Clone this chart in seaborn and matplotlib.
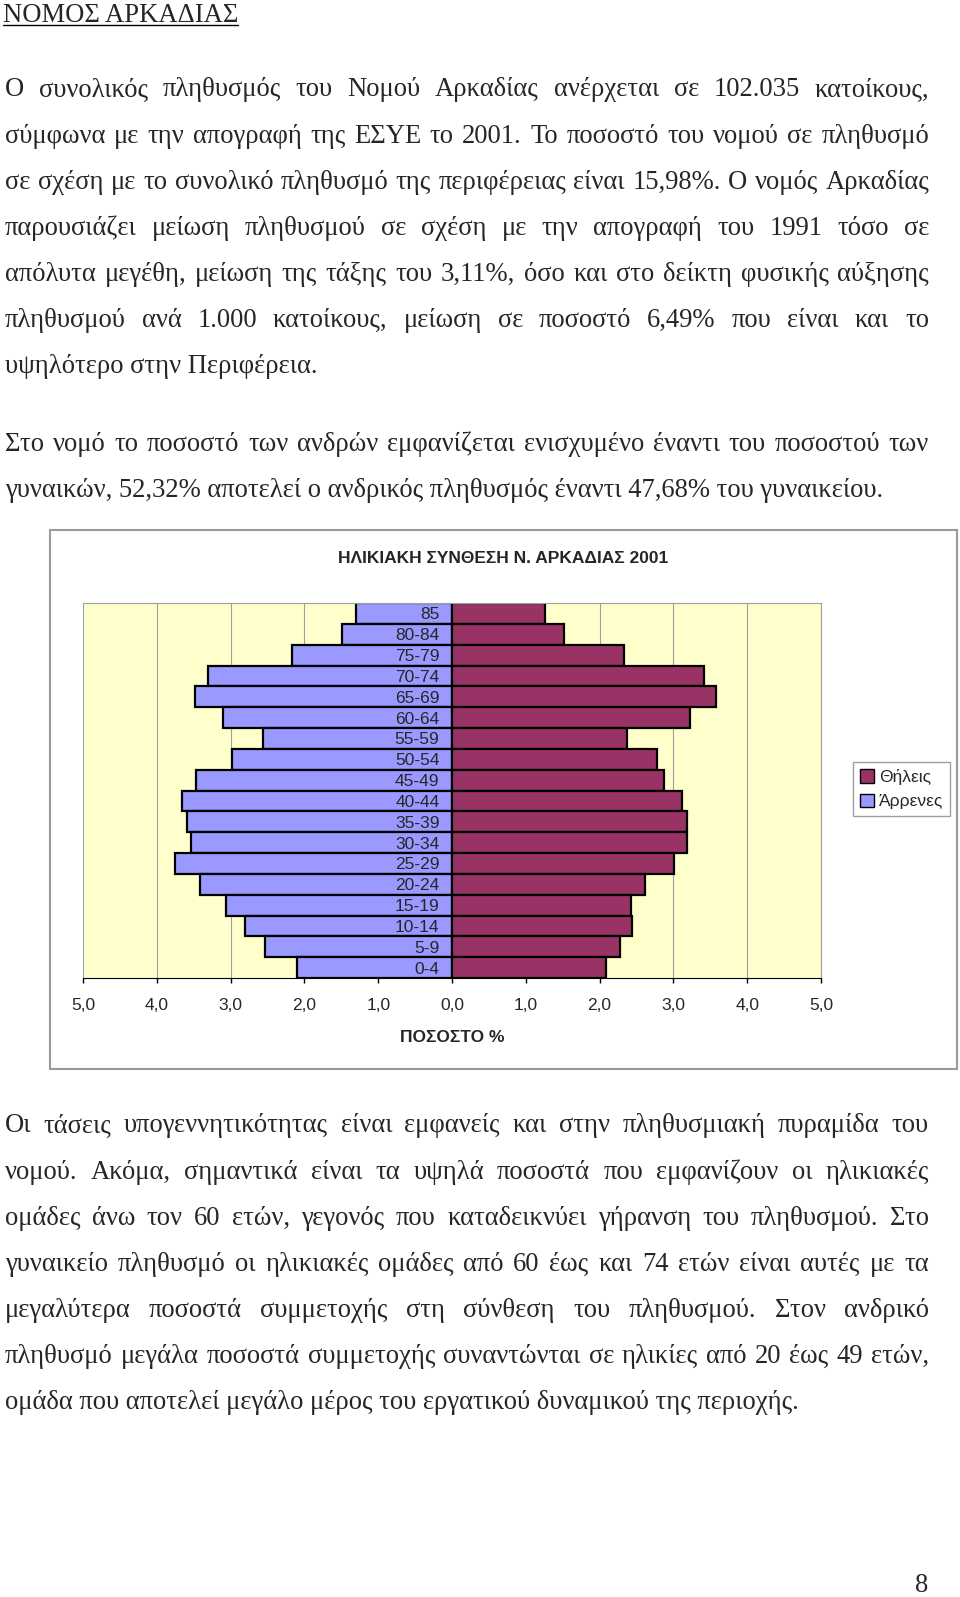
import matplotlib
matplotlib.use('Agg')
import matplotlib.pyplot as plt
import seaborn as sns
import pandas as pd
from matplotlib.patches import Patch, Rectangle
from matplotlib.lines import Line2D

# chart data (percent of population)
ages = ['85', '80-84', '75-79', '70-74', '65-69', '60-64', '55-59', '50-54', '45-49',
        '40-44', '35-39', '30-34', '25-29', '20-24', '15-19', '10-14', '5-9', '0-4']
males = [1.30, 1.49, 2.17, 3.31, 3.48, 3.10, 2.56, 2.98, 3.47,
         3.66, 3.59, 3.54, 3.75, 3.42, 3.06, 2.81, 2.53, 2.10]
females = [1.26, 1.52, 2.33, 3.41, 3.58, 3.22, 2.37, 2.78, 2.87,
           3.12, 3.18, 3.18, 3.01, 2.62, 2.42, 2.44, 2.27, 2.09]
x_ticks = [-5, -4, -3, -2, -1, 0, 1, 2, 3, 4, 5]

heading = 'ΝΟΜΟΣ ΑΡΚΑΔΙΑΣ'
para1 = [
    'Ο συνολικός πληθυσμός του Νομού Αρκαδίας ανέρχεται σε 102.035 κατοίκους,',
    'σύμφωνα με την απογραφή της ΕΣΥΕ το 2001. Το ποσοστό του νομού σε πληθυσμό',
    'σε σχέση με το συνολικό πληθυσμό της περιφέρειας είναι 15,98%. Ο νομός Αρκαδίας',
    'παρουσιάζει μείωση πληθυσμού σε σχέση με την απογραφή του 1991 τόσο σε',
    'απόλυτα μεγέθη, μείωση της τάξης του 3,11%, όσο και στο δείκτη φυσικής αύξησης',
    'πληθυσμού ανά 1.000 κατοίκους, μείωση σε ποσοστό 6,49% που είναι και το',
    'υψηλότερο στην Περιφέρεια.',
]
para2 = [
    'Στο νομό το ποσοστό των ανδρών εμφανίζεται ενισχυμένο έναντι του ποσοστού των',
    'γυναικών, 52,32% αποτελεί ο ανδρικός πληθυσμός έναντι 47,68% του γυναικείου.',
]
para3 = [
    'Οι τάσεις υπογεννητικότητας είναι εμφανείς και στην πληθυσμιακή πυραμίδα του',
    'νομού. Ακόμα, σημαντικά είναι τα υψηλά ποσοστά που εμφανίζουν οι ηλικιακές',
    'ομάδες άνω τον 60 ετών, γεγονός που καταδεικνύει γήρανση του πληθυσμού. Στο',
    'γυναικείο πληθυσμό οι ηλικιακές ομάδες από 60 έως και 74 ετών είναι αυτές με τα',
    'μεγαλύτερα ποσοστά συμμετοχής στη σύνθεση του πληθυσμού. Στον ανδρικό',
    'πληθυσμό μεγάλα ποσοστά συμμετοχής συναντώνται σε ηλικίες από 20 έως 49 ετών,',
    'ομάδα που αποτελεί μεγάλο μέρος του εργατικού δυναμικού της περιοχής.',
]

W, H = 960, 1597
SERIF = 'Liberation Serif'
SANS = 'Liberation Sans'
BODY = 19.2
CH = 12.5

sns.set_style('white')
fig = plt.figure(figsize=(W / 100, H / 100), dpi=100)
renderer = fig.canvas.get_renderer()

X0, X1 = 5, 929


def put_line(s, y, justify):
    if not justify:
        fig.text(X0 / W, 1 - y / H, s, family=SERIF, fontsize=BODY, va='center', ha='left')
        return
    words = s.split()
    arts = [fig.text(0, 1 - y / H, w, family=SERIF, fontsize=BODY, va='center', ha='left')
            for w in words]
    widths = [a.get_window_extent(renderer).width for a in arts]
    gap = (X1 - X0 - sum(widths)) / (len(words) - 1)
    x = X0
    for a, wd in zip(arts, widths):
        a.set_x(x / W)
        x += wd + gap


def put_para(lines, y0, step=46.1):
    for i, s in enumerate(lines):
        put_line(s, y0 + i * step, i < len(lines) - 1)


# heading with underline
t = fig.text(3 / W, 1 - 21.5 / H, heading, family=SERIF, fontsize=BODY, va='baseline', ha='left')
hw = t.get_window_extent(renderer).width
fig.add_artist(Line2D([3 / W, (3 + hw) / W], [1 - 25 / H, 1 - 25 / H], color='black', lw=1))

put_para(para1, 90)
put_para(para2, 444.5)
put_para(para3, 1126)
fig.text(922 / W, 1 - 1592 / H, '8', family=SERIF, fontsize=BODY, va='baseline', ha='center')

# chart frame
fig.add_artist(Rectangle((50 / W, 1 - 1069 / H), 907 / W, 539 / H, transform=fig.transFigure,
                         fill=False, edgecolor='#9a9a9a', lw=1.5))

ax = fig.add_axes([83 / W, 1 - 978 / H, 738 / W, 375 / H])
ax.set_facecolor('#FFFFCC')

df = pd.DataFrame({
    'age': ages * 2,
    'pct': [-m for m in males] + females,
    'sex': ['Άρρενες'] * len(ages) + ['Θήλεις'] * len(ages),
})
colors = {'Άρρενες': '#9999FF', 'Θήλεις': '#993366'}
sns.barplot(data=df, x='pct', y='age', hue='sex', order=ages, hue_order=['Άρρενες', 'Θήλεις'],
            palette=colors, dodge=False, width=1, edgecolor='black', linewidth=1.6,
            saturation=1, legend=False, orient='h', ax=ax)

ax.set_axisbelow(False)
ax.set_xlim(-5, 5)
for v in x_ticks:
    ax.axvline(v, color='#a0a0a0', lw=0.8, zorder=0.5)
ax.set_xticks(x_ticks)
ax.set_xticklabels([f'{abs(v):.1f}'.replace('.', ',') for v in x_ticks], family=SANS, fontsize=CH)
ax.tick_params(axis='x', direction='out', length=3.5, width=1, color='black', pad=11, bottom=True)
ax.set_xlabel('ΠΟΣΟΣΤΟ %', family=SANS, fontsize=CH, fontweight='bold', labelpad=12)
ax.set_ylabel('')

ax.spines['left'].set_position(('data', 0))
ax.spines['left'].set_visible(False)
ax.tick_params(axis='y', length=0, pad=9, left=True, labelleft=True)
for lab in ax.get_yticklabels():
    lab.set_family(SANS)
    lab.set_fontsize(CH)
ax.spines['bottom'].set_color('black')
ax.spines['top'].set_color('#a0a0a0')
ax.spines['right'].set_color('#a0a0a0')

fig.text(503 / W, 1 - 558 / H, 'ΗΛΙΚΙΑΚΗ ΣΥΝΘΕΣΗ Ν. ΑΡΚΑΔΙΑΣ 2001', family=SANS, fontsize=CH,
         fontweight='bold', ha='center', va='center')

handles = [Patch(facecolor=colors['Θήλεις'], edgecolor='black', label='Θήλεις'),
           Patch(facecolor=colors['Άρρενες'], edgecolor='black', label='Άρρενες')]
leg = fig.legend(handles=handles, loc='upper left', bbox_to_anchor=(853 / W, 1 - 762 / H),
                 bbox_transform=fig.transFigure, borderaxespad=0, fancybox=False,
                 edgecolor='#a0a0a0', framealpha=1, prop={'family': SANS, 'size': CH},
                 handlelength=0.8, handleheight=0.8, handletextpad=0.3, labelspacing=0.5,
                 borderpad=0.4)
leg.get_frame().set_linewidth(1)

fig.savefig('out.png', dpi=100)
